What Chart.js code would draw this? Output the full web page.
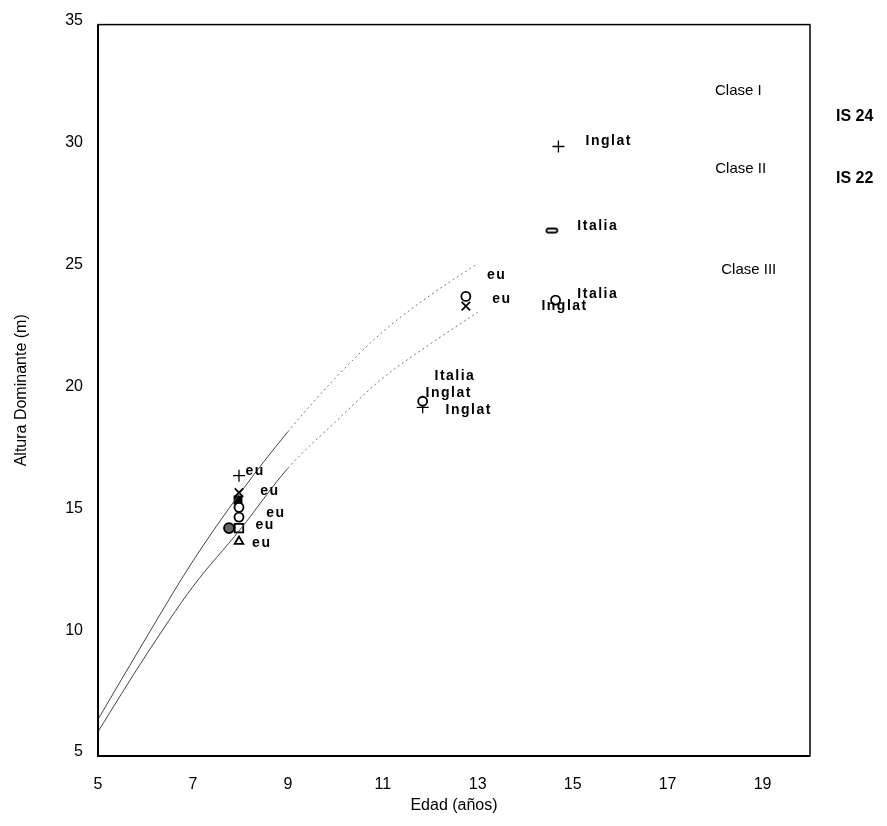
<!DOCTYPE html>
<html>
<head>
<meta charset="utf-8">
<script src="https://cdn.jsdelivr.net/npm/chart.js@4"></script>
<style>
  html, body { margin: 0; padding: 0; background: #fff; }
  #wrap { width: 887px; height: 826px; }
</style>
</head>
<body>
<div id="wrap"><canvas id="chart"></canvas></div>
<script>
// Site index curves (age -> dominant height)
const curveAges = [5, 6, 7, 8, 9, 10, 11, 12, 13];
const upperCurve = [6.5, 9.8, 13.0, 15.8, 18.3, 20.5, 22.4, 23.9, 25.2];
const lowerCurve = [6.0, 9.1, 11.95, 14.3, 16.8, 18.7, 20.5, 21.9, 23.2];

// Plotted observations, one array per marker type: [age, height]
const crossPts = [[7.97, 16.5], [11.84, 19.3], [14.7, 30.0]];
const xPts = [[7.97, 15.8], [12.75, 23.45]];
const filledSquarePts = [[7.95, 15.5]];
const circlePts = [[7.97, 15.2], [7.97, 14.8], [12.75, 23.85], [11.84, 19.55], [14.64, 23.7]];
const darkCirclePts = [[7.76, 14.35]];
const squarePts = [[7.97, 14.35]];
const trianglePts = [[7.97, 13.8]];
const flatRectPts = [[14.56, 26.55]];

// Text annotations: [text, age, height]
const pointLabels = [
    ['eu', 8.31, 16.68], ['eu', 8.62, 15.86], ['eu', 8.75, 14.96],
    ['eu', 8.52, 14.47], ['eu', 8.45, 13.73],
    ['eu', 13.4, 24.71], ['eu', 13.51, 23.73],
    ['Italia', 12.52, 20.57], ['Inglat', 12.39, 19.88], ['Inglat', 12.81, 19.18],
    ['Inglat', 15.76, 30.2], ['Italia', 15.53, 26.72],
    ['Italia', 15.53, 23.93], ['Inglat', 14.83, 23.44]
];
const classLabels = [['Clase I', 18.49, 32.3], ['Clase II', 18.54, 29.1], ['Clase III', 18.71, 24.92]];
const indexLabels = [['IS 24', 20.94, 31.23], ['IS 22', 20.94, 28.69]];

const xTickValues = [5, 7, 9, 11, 13, 15, 17, 19];
const yTickValues = [5, 10, 15, 20, 25, 30, 35];

const FONT = "'Liberation Sans', Arial, sans-serif";

function toXY(list) {
    return list.map(p => ({ x: p[0], y: p[1] }));
}

function curveData(values) {
    return curveAges.map((a, i) => ({ x: a, y: values[i] }));
}

// small flat rounded rectangle marker
function makeFlatRect() {
    const c = document.createElement('canvas');
    c.width = 14; c.height = 7;
    const g = c.getContext('2d');
    g.strokeStyle = '#000';
    g.lineWidth = 1.8;
    g.beginPath();
    g.roundRect(1.5, 1.5, 11, 4, 2);
    g.stroke();
    return c;
}

const boxPlugin = {
    id: 'box',
    afterDraw(chart) {
        const { ctx, chartArea: a } = chart;
        ctx.save();
        ctx.strokeStyle = '#000';
        ctx.lineWidth = 1.5;
        ctx.strokeRect(a.left, a.top, a.right - a.left, a.bottom - a.top);
        ctx.lineWidth = 2;
        ctx.beginPath();
        ctx.moveTo(a.left, a.top);
        ctx.lineTo(a.left, a.bottom);
        ctx.lineTo(a.right, a.bottom);
        ctx.stroke();
        ctx.restore();
    }
};

const textPlugin = {
    id: 'texts',
    afterDatasetsDraw(chart) {
        const { ctx, scales } = chart;
        const put = (list, font, spacing) => {
            ctx.font = font;
            ctx.letterSpacing = spacing;
            list.forEach(([t, x, y]) => {
                ctx.fillText(t, scales.x.getPixelForValue(x), scales.y.getPixelForValue(y));
            });
        };
        ctx.save();
        ctx.fillStyle = '#000';
        ctx.textAlign = 'center';
        ctx.textBaseline = 'middle';
        put(pointLabels, 'bold 14px ' + FONT, '1.5px');
        put(classLabels, '15px ' + FONT, '0px');
        put(indexLabels, 'bold 16px ' + FONT, '0px');
        ctx.restore();
    }
};

function lineSet(values, dash) {
    return {
        type: 'line',
        data: curveData(values),
        borderColor: '#444',
        borderWidth: 1,
        pointRadius: 0,
        cubicInterpolationMode: 'monotone',
        segment: {
            borderDash: c => c.p0.parsed.x >= dash ? [2, 3] : undefined,
            borderColor: c => c.p0.parsed.x >= dash ? '#777' : undefined
        }
    };
}

function markerSet(pts, style, opts) {
    return Object.assign({
        type: 'scatter',
        data: toXY(pts),
        pointStyle: style,
        pointRadius: 5,
        borderColor: '#000',
        backgroundColor: '#fff',
        pointBorderWidth: 1.8
    }, opts || {});
}

new Chart(document.getElementById('chart'), {
    data: {
        datasets: [
            lineSet(upperCurve, 9),
            lineSet(lowerCurve, 9),
            markerSet(trianglePts, 'triangle'),
            markerSet(squarePts, 'rect', { pointRadius: 6 }),
            markerSet(darkCirclePts, 'circle', { backgroundColor: '#666' }),
            markerSet(circlePts, 'circle', { pointRadius: 4.5 }),
            markerSet(filledSquarePts, 'rect', { backgroundColor: '#000' }),
            markerSet(xPts, 'crossRot', { pointRadius: 6 }),
            markerSet(crossPts, 'cross', { pointRadius: 6, pointBorderWidth: 1.3 }),
            markerSet(flatRectPts, makeFlatRect())
        ]
    },
    options: {
        responsive: true,
        maintainAspectRatio: false,
        animation: false,
        layout: { padding: { top: 24, right: 77, left: 0, bottom: 0 } },
        plugins: {
            legend: { display: false },
            tooltip: { enabled: false }
        },
        scales: {
            x: {
                type: 'linear',
                min: 5,
                max: 20,
                afterBuildTicks: axis => { axis.ticks = xTickValues.map(v => ({ value: v })); },
                afterFit: axis => { axis.height = 70; },
                grid: { display: false, drawTicks: false },
                border: { display: false },
                ticks: { color: '#000', font: { family: FONT, size: 16 }, padding: 19, maxRotation: 0 },
                title: {
                    display: true, text: 'Edad (años)', color: '#000',
                    font: { family: FONT, size: 16 }, padding: { top: 0, bottom: 10.4 }
                }
            },
            y: {
                type: 'linear',
                min: 5,
                max: 35,
                afterBuildTicks: axis => { axis.ticks = yTickValues.map(v => ({ value: v })); },
                afterFit: axis => { axis.width = 98; },
                grid: { display: false, drawTicks: false },
                border: { display: false },
                ticks: { color: '#000', font: { family: FONT, size: 16 }, padding: 15, labelOffset: -4 },
                title: {
                    display: true, text: 'Altura Dominante (m)', color: '#000',
                    font: { family: FONT, size: 16 }, padding: { top: 12.4, bottom: 0 }
                }
            }
        }
    },
    plugins: [boxPlugin, textPlugin]
});
</script>
</body>
</html>
